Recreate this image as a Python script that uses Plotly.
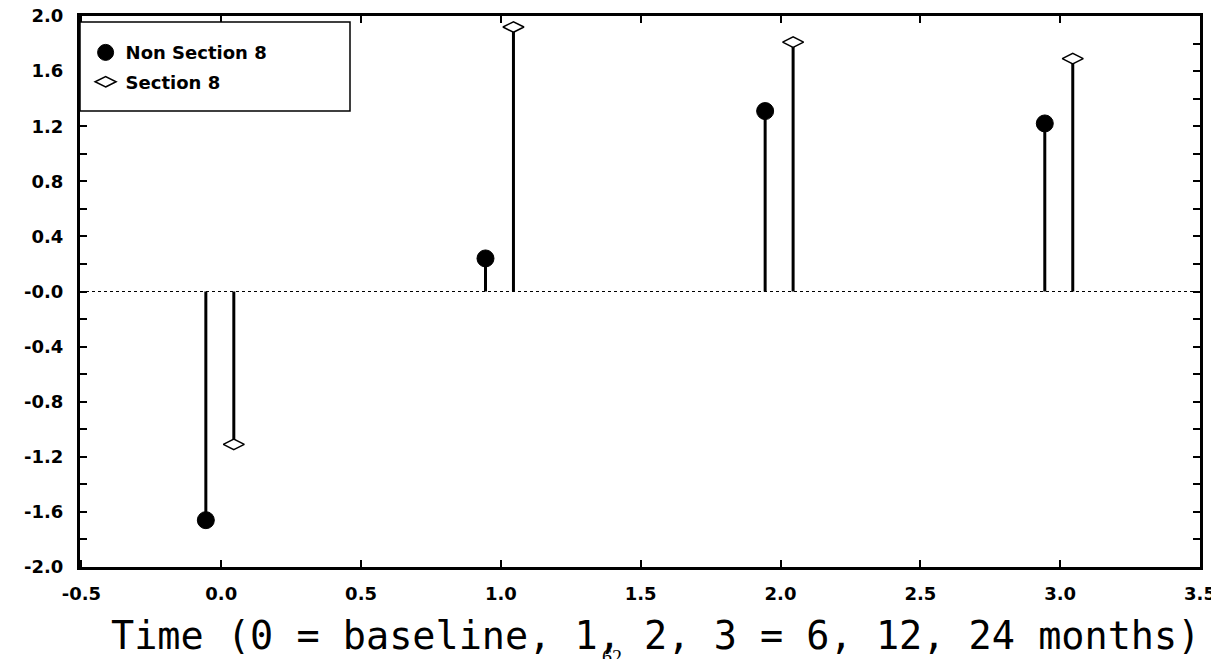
import plotly.graph_objects as go

times = [0, 1, 2, 3]
non_section8 = [-1.66, 0.24, 1.31, 1.22]
section8 = [-1.11, 1.92, 1.81, 1.69]
series_names = ["Non Section 8", "Section 8"]
x_tick_vals = [-0.5, 0.0, 0.5, 1.0, 1.5, 2.0, 2.5, 3.0, 3.5]
x_tick_text = ["-0.5", "0.0", "0.5", "1.0", "1.5", "2.0", "2.5", "3.0", "3.5"]
y_tick_vals = [-2.0, -1.6, -1.2, -0.8, -0.4, 0.0, 0.4, 0.8, 1.2, 1.6, 2.0]
y_tick_text = ["-2.0", "-1.6", "-1.2", "-0.8", "-0.4", "-0.0", "0.4", "0.8", "1.2", "1.6", "2.0"]
x_title = "Time (0 = baseline, 1, 2, 3 = 6, 12, 24 months)"
page_number = "62"

offsets = [-0.055, 0.045]

def stems(xs, ys):
    sx, sy = [], []
    for x, y in zip(xs, ys):
        sx += [x, x, None]
        sy += [0, y, None]
    return sx, sy

fig = go.Figure()
xs0 = [t + offsets[0] for t in times]
xs1 = [t + offsets[1] for t in times]
for xs, ys in [(xs0, non_section8), (xs1, section8)]:
    sx, sy = stems(xs, ys)
    fig.add_trace(go.Scatter(x=sx, y=sy, mode="lines", line=dict(color="black", width=3),
                             showlegend=False, hoverinfo="skip"))

fig.add_trace(go.Scatter(x=xs0, y=non_section8, mode="markers", name=series_names[0],
                         legendgroup="a",
                         marker=dict(symbol="circle", size=17, color="black",
                                     line=dict(color="black", width=1))))
fig.add_trace(go.Scatter(x=xs1, y=section8, mode="markers", name=series_names[1],
                         legendgroup="b",
                         marker=dict(symbol="diamond-wide", size=15, color="white",
                                     line=dict(color="black", width=1.5))))

fig.add_shape(type="line", xref="paper", yref="y", x0=0, x1=1, y0=0, y1=0,
              line=dict(color="black", width=1, dash="dot"))

# legend frame
fig.add_shape(type="rect", xref="paper", yref="paper", x0=0.0, x1=270 / 1120,
              y0=1 - 95 / 551, y1=1 - 6 / 551,
              line=dict(color="black", width=1.5), fillcolor="white", layer="above")

fig.add_annotation(text=x_title, xref="paper", yref="paper", x=0.514, y=-0.125,
                   xanchor="center", yanchor="middle", showarrow=False,
                   font=dict(family="DejaVu Sans Mono", size=38.5, color="black"))

fig.add_annotation(text=page_number, xref="paper", yref="paper", x=0.475, y=-0.14,
                   xanchor="center", yanchor="top", showarrow=False,
                   font=dict(family="Liberation Serif", size=20, color="black"))

tick_font = dict(family="DejaVu Sans", size=18, color="black", weight="bold")

# the page body has an 8px default margin, so the figure is shrunk by 8px
fig.update_layout(
    width=1211, height=651,
    margin=dict(l=72, r=19, t=8, b=92),
    paper_bgcolor="white", plot_bgcolor="white",
    font=dict(family="DejaVu Sans", color="black"),
    showlegend=True,
    legend=dict(x=0.005, y=0.967, xanchor="left", yanchor="top",
                borderwidth=0, bgcolor="rgba(0,0,0,0)",
                font=dict(family="DejaVu Sans", size=18, color="black", weight="bold"),
                tracegroupgap=3, itemwidth=30),
    xaxis=dict(range=[-0.505, 3.5], tickvals=x_tick_vals, ticktext=x_tick_text,
               automargin=False, ticklabeloverflow="allow",
               showgrid=False, zeroline=False, showline=True, linecolor="black", linewidth=3,
               mirror="ticks", ticks="inside", ticklen=7, tickwidth=1.5, tickcolor="black",
               ticklabelstandoff=8, tickfont=tick_font),
    yaxis=dict(range=[-2.0, 2.0], tickvals=y_tick_vals, ticktext=y_tick_text,
               automargin=False, ticklabeloverflow="allow",
               showgrid=False, zeroline=False, showline=True, linecolor="black", linewidth=3,
               mirror="ticks", ticks="inside", ticklen=7, tickwidth=1.5, tickcolor="black",
               ticklabelstandoff=10, tickfont=tick_font,
               minor=dict(dtick=0.2, tick0=0, ticks="inside", ticklen=7, tickcolor="black",
                          tickwidth=1.5, showgrid=False)),
)

fig.write_html("out.html")
